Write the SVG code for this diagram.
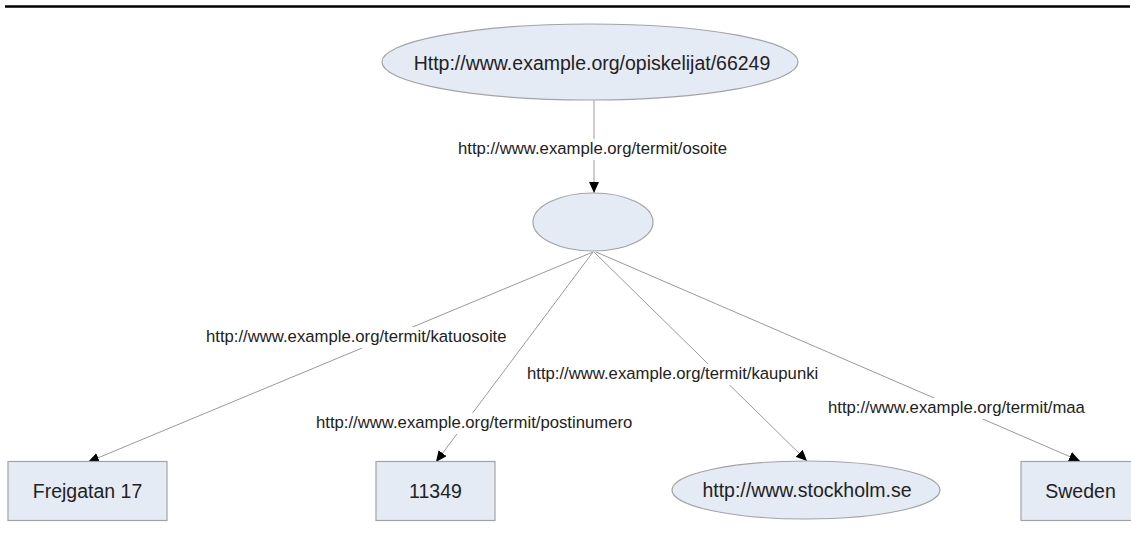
<svg xmlns="http://www.w3.org/2000/svg" width="1131" height="533" viewBox="0 0 1131 533">
<style>
.node{fill:#e5ebf5;stroke:#a3a3a3;stroke-width:1.2}
.nt{font-family:"Liberation Sans",Arial,sans-serif;font-size:19.5px;fill:#222;text-anchor:middle}
.edge{stroke:#9a9a9a;stroke-width:1;fill:none;marker-end:url(#arr)}
.lt{font-family:"Liberation Sans",Arial,sans-serif;font-size:16.7px;fill:#222}
.lbg{fill:#fff;stroke:none}
</style>
<defs>
<marker id="arr" markerUnits="userSpaceOnUse" markerWidth="12" markerHeight="10" refX="11" refY="5" orient="auto">
<path d="M0,0 L11,5 L0,10 Z" fill="#000"/>
</marker>
</defs>
<rect width="1131" height="533" fill="#fff"/>
<line x1="5" y1="6.5" x2="1130" y2="6.5" stroke="#000" stroke-width="2.6"/>
<g id="connectors">
<line class="edge" x1="594" y1="100" x2="594" y2="193"/>
<line class="edge" x1="593" y1="252" x2="88" y2="462"/>
<line class="edge" x1="593" y1="252" x2="436" y2="462"/>
<line class="edge" x1="594" y1="252" x2="807" y2="461"/>
<line class="edge" x1="596" y1="252" x2="1080" y2="461"/>
<g id="labels">
<rect class="lbg" x="456" y="139" width="274" height="21"/>
<text class="lt" x="458" y="154">http://www.example.org/termit/osoite</text>
<rect class="lbg" x="204" y="327" width="305" height="21"/>
<text class="lt" x="206" y="342">http://www.example.org/termit/katuosoite</text>
<rect class="lbg" x="314" y="413" width="321" height="21"/>
<text class="lt" x="316" y="428">http://www.example.org/termit/postinumero</text>
<rect class="lbg" x="525" y="364" width="296" height="21"/>
<text class="lt" x="527" y="379">http://www.example.org/termit/kaupunki</text>
<rect class="lbg" x="826" y="398" width="262" height="21"/>
<text class="lt" x="828" y="413">http://www.example.org/termit/maa</text>
</g>
</g>
<g id="n-student">
<ellipse class="node" cx="590" cy="62" rx="208" ry="38"/>
<text class="nt" x="592" y="70">Http://www.example.org/opiskelijat/66249</text>
</g>
<g id="n-blank">
<ellipse class="node" cx="593" cy="222" rx="60" ry="29"/>
</g>
<g id="n-street">
<rect class="node" x="8" y="461.5" width="159" height="59"/>
<text class="nt" x="87.5" y="498">Frejgatan 17</text>
</g>
<g id="n-postal">
<rect class="node" x="376" y="461.5" width="119" height="59"/>
<text class="nt" x="435.5" y="498">11349</text>
</g>
<g id="n-city">
<ellipse class="node" cx="806" cy="490" rx="134" ry="29"/>
<text class="nt" x="807" y="497">http://www.stockholm.se</text>
</g>
<g id="n-country">
<rect class="node" x="1021" y="461.5" width="119" height="59"/>
<text class="nt" x="1080.5" y="498">Sweden</text>
</g>
</svg>
